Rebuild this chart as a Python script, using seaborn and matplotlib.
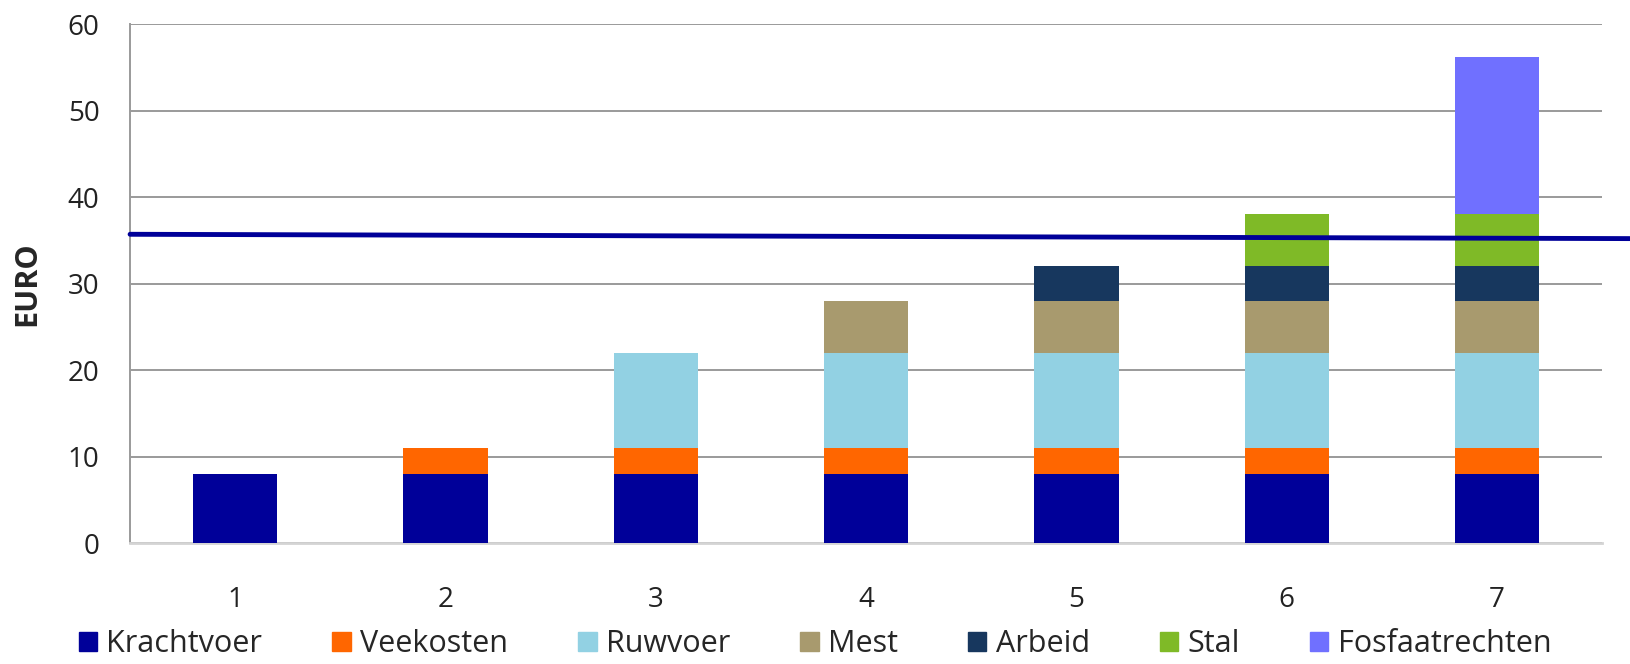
import pandas as pd
import matplotlib
matplotlib.use("Agg")
import matplotlib.pyplot as plt
import seaborn as sns

# Gegevens
categorieen = ["1", "2", "3", "4", "5", "6", "7"]
krachtvoer = [8, 8, 8, 8, 8, 8, 8]
veekosten = [0, 3, 3, 3, 3, 3, 3]
ruwvoer = [0, 0, 11, 11, 11, 11, 11]
mest = [0, 0, 0, 6, 6, 6, 6]
arbeid = [0, 0, 0, 0, 4, 4, 4]
stal = [0, 0, 0, 0, 0, 6, 6]
fosfaatrechten = [0, 0, 0, 0, 0, 0, 18.2]

# horizontale lijn (begin en eind)
lijn_x = [-0.5, 6.63]
lijn_y = [35.7, 35.2]

reeksen = ["Krachtvoer", "Veekosten", "Ruwvoer", "Mest", "Arbeid", "Stal", "Fosfaatrechten"]
waarden = [krachtvoer, veekosten, ruwvoer, mest, arbeid, stal, fosfaatrechten]
kleuren = ["#000099", "#FF6600", "#92D1E3", "#A89A6E", "#17375E", "#7FBA27", "#7070FF"]

sns.set_theme(style="white")
plt.rcParams['font.family'] = ['Open Sans', 'DejaVu Sans']

df = pd.DataFrame(dict(zip(reeksen, waarden)), index=categorieen)
cum = df.cumsum(axis=1)

fig = plt.figure(figsize=(16.3, 6.64), dpi=100)
ax = fig.add_axes([0.0798, 0.182, 0.9032, 0.7818])

# gestapelde staven: van boven naar beneden tekenen
for naam, kleur in reversed(list(zip(reeksen, kleuren))):
    sns.barplot(x=categorieen, y=cum[naam].values, color=kleur, width=0.4,
                saturation=1, linewidth=0, ax=ax, label=naam, zorder=3,
                legend=False)

ax.plot(lijn_x, lijn_y, color="#000099", linewidth=3.5, clip_on=False, zorder=5)

ax.set_ylim(0, 60)
ax.set_xlim(-0.5, 6.5)
ax.set_yticks(range(0, 61, 10))
ax.yaxis.grid(True, color="#9a9a9a", linewidth=1.4, zorder=0)
ax.set_axisbelow(True)
for s in ["top", "right"]:
    ax.spines[s].set_visible(False)
ax.spines["left"].set_color("#9a9a9a")
ax.spines["left"].set_linewidth(1.4)
ax.spines["bottom"].set_color("#d4d4d4")
ax.spines["bottom"].set_linewidth(2)

ax.tick_params(axis="y", labelsize=20, pad=22, length=0, colors="#222222")
ax.tick_params(axis="x", labelsize=20, pad=31, length=0, colors="#222222")
ax.set_ylabel("EURO", fontsize=22, fontweight="bold", labelpad=18)
ax.set_xlabel("")
if ax.get_legend() is not None:
    ax.get_legend().remove()

handles = [plt.Rectangle((0, 0), 1, 1, color=k) for k in kleuren]
fig.legend(handles, reeksen, loc="center",
           bbox_to_anchor=(0.5, 0.03), ncol=7, frameon=False, fontsize=22,
           handlelength=0.6, handleheight=0.6, handletextpad=0.3,
           columnspacing=2.3, borderpad=0.1)

fig.savefig("out.png", dpi=100)
